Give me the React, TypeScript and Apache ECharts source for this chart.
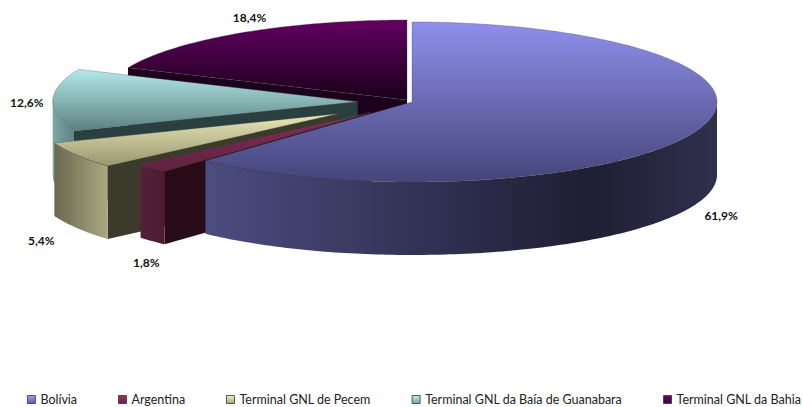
import React, { useEffect, useRef } from "react";
import * as echarts from "echarts";

// Origin of natural gas supply, share of volume in percent.
const categories = [
  "Bolívia",
  "Argentina",
  "Terminal GNL de Pecem",
  "Terminal GNL da Baía de Guanabara",
  "Terminal GNL da Bahia",
];
const shares = [61.9, 1.8, 5.4, 12.6, 18.4];

// Distance each slice is pulled out of the pie, as a fraction of the radius.
const explode = [0, 0.187, 0.283, 0.178, 0.03];

// Label offset from the middle of each slice's outer edge.
const labelOffsets = [
  [25, 84],
  [-6, 94],
  [-36, 85],
  [-26, 2],
  [9, -15],
];

const topColors = [
  ["#8f8fec", "#45457a"],
  ["#8a2a5c", "#5e2340"],
  ["#e8e8b8", "#9a9670"],
  ["#b4eaea", "#5c8080"],
  ["#620060", "#1a001a"],
];
const rimColors = [
  [
    [0, "#4c4c80"],
    [0.75, "#1e1e34"],
    [1, "#30304e"],
  ],
  [
    [0, "#55203a"],
    [1, "#4a1c32"],
  ],
  [
    [0, "#6a6850"],
    [1, "#aaa880"],
  ],
  [
    [0, "#7fa6a6"],
    [1, "#5d8383"],
  ],
  [
    [0, "#300030"],
    [1, "#300030"],
  ],
];
const wallColors = ["#20203a", "#2a0c18", "#3c3a2a", "#2a4040", "#1c001c"];
const legendColors = [
  ["#a0a0f0", "#5c5cb0"],
  ["#a03068", "#701c48"],
  ["#f0f0c0", "#a8a870"],
  ["#c0f0f0", "#70a8a8"],
  ["#700070", "#400040"],
];

const CX = 412;
const CY = 102;
const RX = 305;
const RY = 80;
const DEPTH = 73;

const total = shares.reduce((a, b) => a + b, 0);
const DEG = Math.PI / 180;

function vGradient(c: string[]) {
  return new echarts.graphic.LinearGradient(0, 0, 0, 1, [
    { offset: 0, color: c[0] },
    { offset: 1, color: c[1] },
  ]);
}

function hGradient(stops: any[]) {
  return new echarts.graphic.LinearGradient(
    0,
    0,
    1,
    0,
    stops.map((s) => ({ offset: s[0], color: s[1] })),
  );
}

function renderSlice(index: number) {
  return (_params: any, api: any) => {
    const before = shares.slice(0, index).reduce((a, b) => a + b, 0);
    const a1 = (before / total) * 360;
    const a2 = a1 + (api.value(0) / total) * 360;
    const mid = (a1 + a2) / 2;

    // Pull-out keeps the slice on its own radial direction in the tilted plane.
    const ox = CX + explode[index] * RX * Math.sin(mid * DEG);
    const oy = CY - explode[index] * RY * Math.cos(mid * DEG);
    const at = (deg: number, drop = 0): number[] => [
      ox + RX * Math.sin(deg * DEG),
      oy - RY * Math.cos(deg * DEG) + drop,
    ];
    const arc = (from: number, to: number, drop = 0) => {
      const pts: number[][] = [];
      const n = Math.max(2, Math.ceil(Math.abs(to - from)));
      for (let i = 0; i <= n; i++) pts.push(at(from + ((to - from) * i) / n, drop));
      return pts;
    };

    const children: any[] = [];
    const apex = [ox, oy];
    const apexLow = [ox, oy + DEPTH];

    // Side wall on the slice's leading edge, visible when it faces the viewer.
    if (Math.sin(a1 * DEG) < -0.01) {
      children.push({
        type: "polygon",
        shape: { points: [apex, at(a1), at(a1, DEPTH), apexLow] },
        style: { fill: wallColors[index] },
      });
    }

    // Outer rim, only on the front half of the ellipse.
    const rimFrom = Math.max(a1, 90);
    const rimTo = Math.min(a2, 270);
    if (rimTo > rimFrom) {
      children.push({
        type: "polygon",
        shape: {
          points: [...arc(rimFrom, rimTo), ...arc(rimTo, rimFrom, DEPTH)],
        },
        style: { fill: hGradient(rimColors[index]) },
      });
    }

    // Top face.
    children.push({
      type: "polygon",
      shape: { points: [apex, ...arc(a1, a2)] },
      style: {
        fill: vGradient(topColors[index]),
        stroke: "rgba(70,70,70,0.55)",
        lineWidth: 0.6,
      },
    });

    // Value label.
    const edge = at(mid);
    children.push({
      type: "text",
      x: edge[0] + labelOffsets[index][0],
      y: edge[1] + labelOffsets[index][1],
      style: {
        text: api.value(0).toFixed(1).replace(".", ",") + "%",
        fill: "#111",
        font: "bold 12px Lato, sans-serif",
        textAlign: "center",
        textVerticalAlign: "middle",
      },
    });

    return { type: "group", children };
  };
}

export default function App() {
  const ref = useRef<HTMLDivElement>(null);

  useEffect(() => {
    const chart = echarts.init(ref.current!, null, { renderer: "svg" });
    chart.setOption({
      animation: false,
      backgroundColor: "#ffffff",
      legend: {
        left: 27,
        top: 393,
        width: 790,
        padding: 0,
        itemWidth: 8,
        itemHeight: 8,
        itemGap: 41,
        selectedMode: false,
        icon: "rect",
        textStyle: {
          fontFamily: "Lato, sans-serif",
          fontSize: 12.5,
          color: "#222",
        },
        data: categories.map((name, i) => ({
          name,
          itemStyle: {
            color: vGradient(legendColors[i]),
            borderColor: "#333",
            borderWidth: 0.8,
          },
        })),
      },
      series: categories.map((name, i) => ({
        type: "custom",
        name,
        coordinateSystem: "none",
        // Back slices first, so Bolívia ends up in front of everything.
        z: 10 - i,
        silent: true,
        itemStyle: { color: legendColors[i][0] },
        renderItem: renderSlice(i),
        data: [[shares[i]]],
      })),
    });
    return () => chart.dispose();
  }, []);

  return (
    <div
      ref={ref}
      style={{ position: "fixed", left: 0, top: 0, width: 803, height: 407 }}
    />
  );
}
